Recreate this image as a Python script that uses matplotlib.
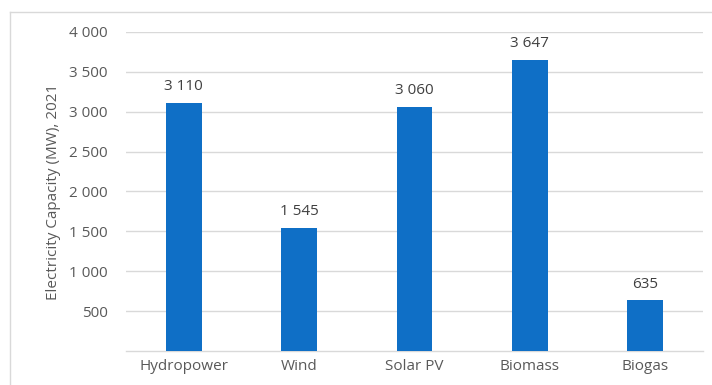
import matplotlib

matplotlib.use("Agg")
import matplotlib.pyplot as plt  # noqa: E402
from matplotlib.lines import Line2D  # noqa: E402

sources = ["Hydropower", "Wind", "Solar PV", "Biomass", "Biogas"]
capacity_mw = [3110, 1545, 3060, 3647, 635]
y_ticks = [500, 1000, 1500, 2000, 2500, 3000, 3500, 4000]

BAR = "#0F6FC6"
TXT = "#595959"
GRID = "#D9D9D9"
FS = 11

plt.rcParams["font.family"] = ["Open Sans", "DejaVu Sans"]


def spaced(v):
    return f"{v:,}".replace(",", " ")


fig = plt.figure(figsize=(7.12, 3.85), dpi=100)
ax = fig.add_axes([126 / 712, 1 - 351 / 385, (703 - 126) / 712, (351 - 32) / 385])

x = range(len(sources))
ax.bar(x, capacity_mw, width=0.31, color=BAR, zorder=3)
for xi, v in zip(x, capacity_mw):
    ax.text(xi, v + 110, spaced(v), ha="center", va="bottom", fontsize=FS, color="#404040")

ax.set_xlim(-0.5, len(sources) - 0.5)
ax.set_ylim(0, 4000)
ax.set_yticks(y_ticks)
ax.set_yticklabels([spaced(t) for t in y_ticks])
ax.set_xticks(list(x))
ax.set_xticklabels(sources)
ax.tick_params(axis="both", length=0, labelsize=FS, labelcolor=TXT)
ax.tick_params(axis="x", pad=6)
ax.tick_params(axis="y", pad=13)
ax.grid(axis="y", color=GRID, lw=1.0, zorder=0)
for side in ("top", "right", "left"):
    ax.spines[side].set_visible(False)
ax.spines["bottom"].set_color(GRID)
ax.spines["bottom"].set_linewidth(1.0)
ax.set_ylabel("Electricity Capacity (MW), 2021", fontsize=FS, color=TXT, labelpad=6)

# outer chart frame (left and top edges only are in view)
fig.add_artist(Line2D([10 / 712, 10 / 712], [0, 1 - 12 / 385], transform=fig.transFigure, color=GRID, lw=1.0))
fig.add_artist(Line2D([10 / 712, 1], [1 - 12 / 385, 1 - 12 / 385], transform=fig.transFigure, color=GRID, lw=1.0))

fig.savefig("out.png", dpi=100, facecolor="white")
